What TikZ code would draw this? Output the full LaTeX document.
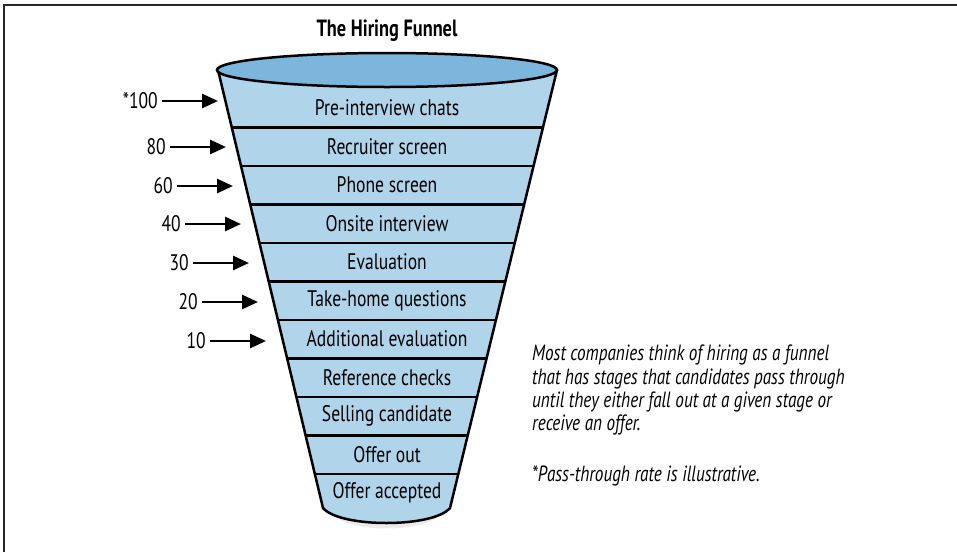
\documentclass[tikz,border=0pt]{standalone}
\usepackage{fontspec}
\setmainfont{PT Sans}[FakeStretch=0.78]
\usetikzlibrary{arrows.meta}
\definecolor{funnelblue}{RGB}{176,212,234}
\definecolor{rimblue}{RGB}{124,182,221}

\begin{document}
\begin{tikzpicture}[x=1pt, y=-1pt,
    stage/.style={font=\fontsize{22.5}{22.5}\selectfont, inner sep=0pt},
    count/.style={font=\fontsize{22.5}{22.5}\selectfont, anchor=east, inner sep=4pt},
    feed/.style={line width=2.8pt, -{Triangle[length=16pt,width=14pt]}},
    rim/.style={line width=2.5pt}
]
\useasboundingbox (0,0) rectangle (957,552);

% frame
\draw [line width=1.6pt, black!85] (4,552) -- (4,5) -- (957,5);

\node [font=\bfseries\fontsize{23.5}{23.5}\selectfont] (title) at (387,31) {The Hiring Funnel};

% funnel body
\fill [black!8] (330,512) .. controls (345,534) and (428,534) .. (443,512) -- cycle;
\fill [funnelblue] (218,70) -- (323,508) .. controls (340,528) and (433,528) .. (450,508) -- (557,70) -- cycle;
\begin{scope}
    \clip (218,70) -- (323,508) -- (450,508) -- (557,70) -- cycle;
    \foreach \y in {127.5,166,204.5,243,281.5,320,358.5,397,435.5,474}
        \draw [line width=2.2pt] (200,\y) -- (600,\y);
\end{scope}
\draw [rim, line join=round] (218,70) -- (323,508) .. controls (340,528) and (433,528) .. (450,508) -- (557,70);
\draw [rim, fill=rimblue] (387,70) ellipse [x radius=170, y radius=17];

% stages
\node [stage] (s1) at (387,108) {Pre-interview chats};
\node [stage] (s2) at (387,146.5) {Recruiter screen};
\node [stage] (s3) at (387,185) {Phone screen};
\node [stage] (s4) at (387,223.5) {Onsite interview};
\node [stage] (s5) at (387,262) {Evaluation};
\node [stage] (s6) at (387,300.5) {Take-home questions};
\node [stage] (s7) at (387,339) {Additional evaluation};
\node [stage] (s8) at (387,377.5) {Reference checks};
\node [stage] (s9) at (387,416) {Selling candidate};
\node [stage] (s10) at (387,454.5) {Offer out};
\node [stage] (s11) at (387,493) {Offer accepted};

% counts
\node [count] (c1) at (162,101) {*100};
\node [count] (c2) at (170,147) {80};
\node [count] (c3) at (177,186) {60};
\node [count] (c4) at (185,224) {40};
\node [count] (c5) at (193,263) {30};
\node [count] (c6) at (202,302) {20};
\node [count] (c7) at (210,341) {10};
\coordinate (t1) at (218,101);
\coordinate (t2) at (226,147);
\coordinate (t3) at (233,186);
\coordinate (t4) at (241,224);
\coordinate (t5) at (249,263);
\coordinate (t6) at (258,302);
\coordinate (t7) at (266,341);
\foreach \i in {1,...,7}
    \draw [feed] (c\i.east) -- (t\i);

% note
\node [anchor=north west, align=left, inner sep=0pt,
       font=\itshape\fontsize{22}{23.3}\selectfont] (note) at (532,345)
    {Most companies think of hiring as a funnel\\
     that has stages that candidates pass through\\
     until they either fall out at a given stage or\\
     receive an offer.\\[27pt]
     *Pass-through rate is illustrative.};

\end{tikzpicture}
\end{document}
